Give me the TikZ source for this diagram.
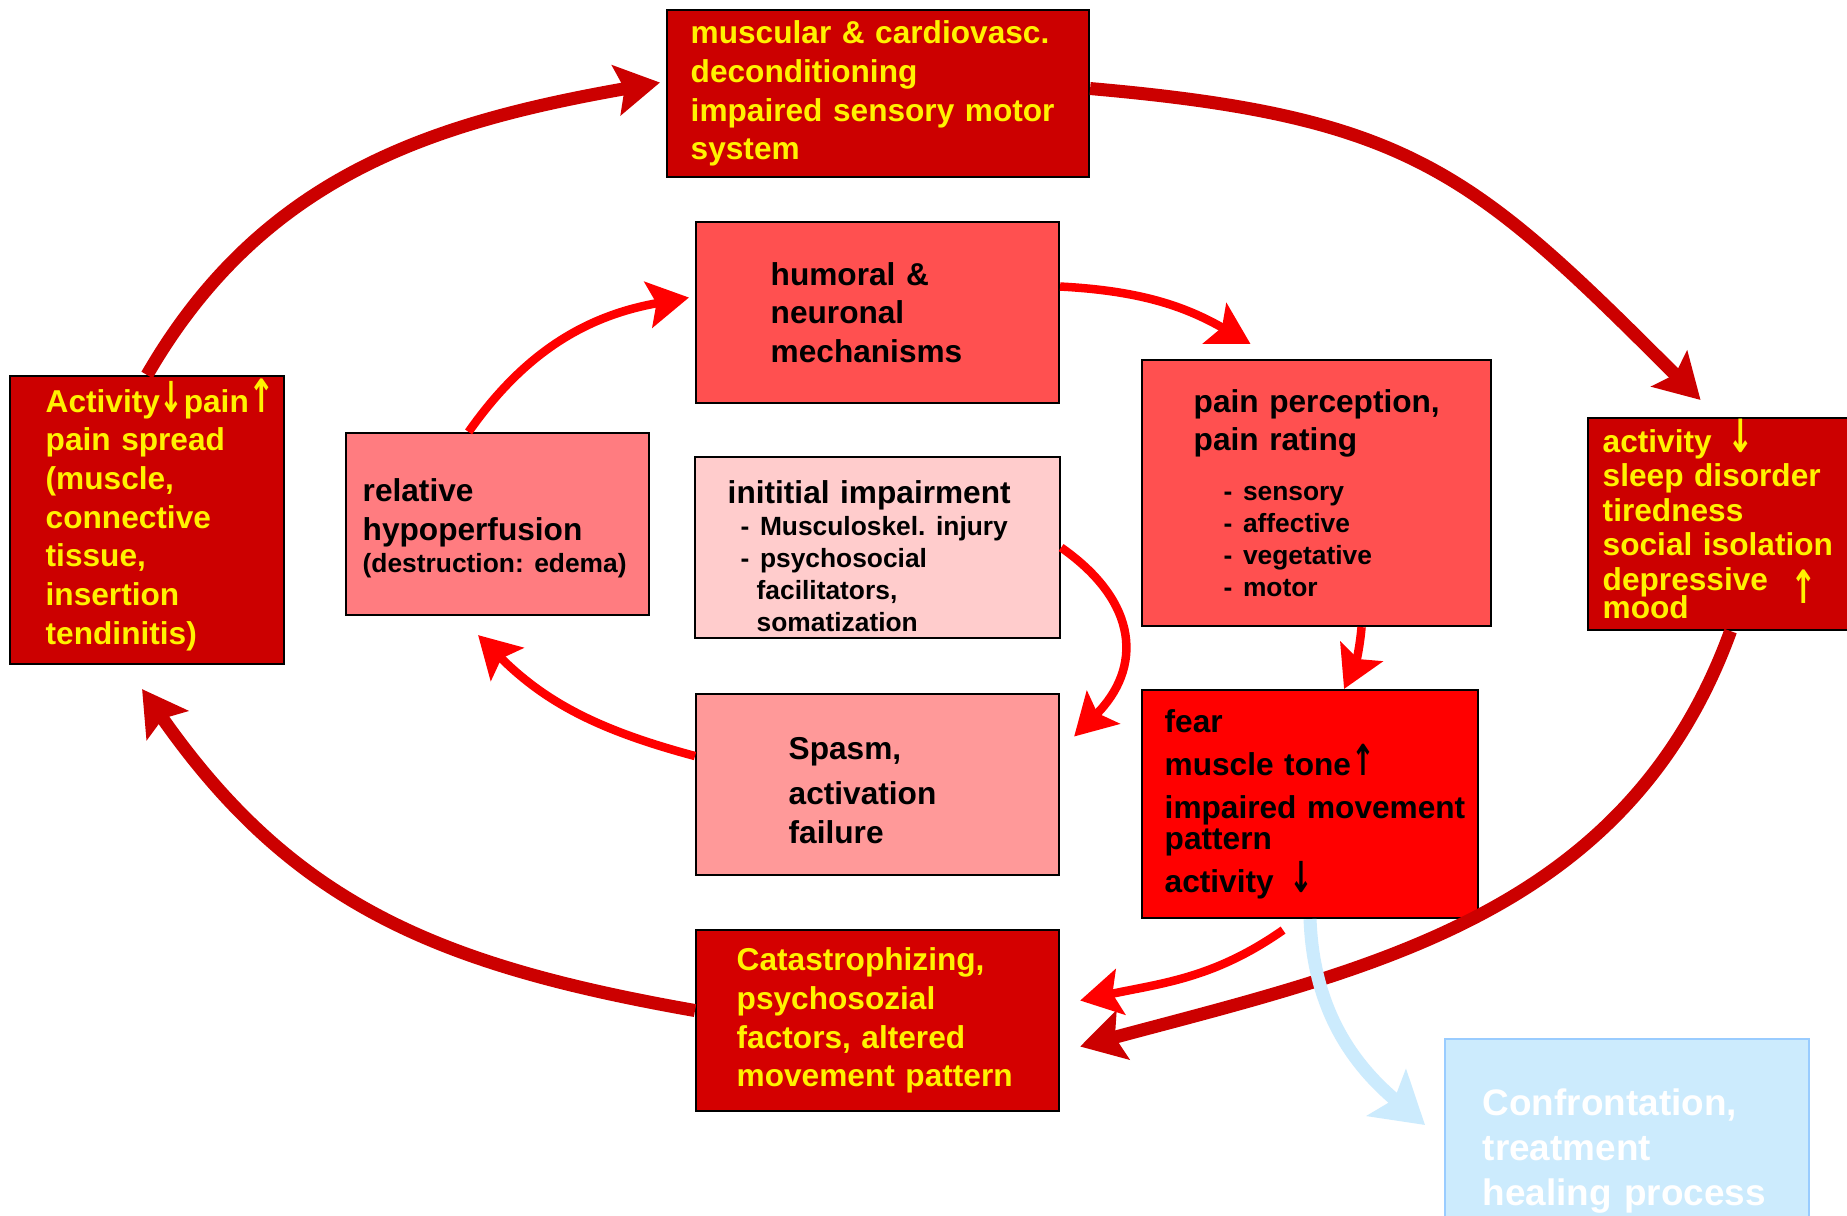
\documentclass[tikz,border=0pt]{standalone}
\usepackage{fontspec}
\setmainfont{Liberation Sans}
\newfontfamily\arrfont{DejaVu Sans}
\usepackage{graphicx}
\usepackage{xcolor}
\usepackage{tikz}
\usetikzlibrary{arrows.meta,positioning}

\definecolor{dkred}{HTML}{CC0000}
\definecolor{catred}{HTML}{D40000}
\definecolor{midred}{HTML}{FF5050}
\definecolor{rosered}{HTML}{FF7C80}
\definecolor{salmon}{HTML}{FF9999}
\definecolor{palepink}{HTML}{FFCCCC}
\definecolor{lightsky}{HTML}{CCEBFD}
\definecolor{skyedge}{HTML}{99CCFF}

\newcommand{\mainsz}{\fontsize{9}{11}\selectfont}
\newcommand{\subsz}{\fontsize{7.5}{9.1}\selectfont}
\newcommand{\arrdown}{\smash{\scalebox{0.9}[1.35]{\arrfont\bfseries ↓}}}
\newcommand{\arrup}{\smash{\scalebox{0.9}[1.35]{\arrfont\bfseries ↑}}}
\newcommand{\thinup}{\smash{\scalebox{1}[1.45]{\arrfont ↑}}}
\newcommand{\thindown}{\smash{\scalebox{1}[1.45]{\arrfont ↓}}}
\frenchspacing

\tikzset{
	cbox/.style={draw=black,line width=0.6pt,anchor=north west,inner sep=0pt},
	txt/.style={anchor=west,inner sep=0pt,align=left,text width=3.4cm,font=\bfseries\mainsz},
	bigarr/.style={line width=1.3mm,dkred,-{Stealth[length=4.4mm,width=5mm,inset=0.8mm]}},
	smallarr/.style={line width=0.85mm,red,-{Stealth[length=4.1mm,width=4.6mm,inset=0.8mm]}},
	bluearr/.style={line width=1.3mm,lightsky,-{Stealth[length=5mm,width=6mm,inset=1mm]}}
}

\begin{document}
\begin{tikzpicture}[transform shape,scale=1]
	\fill[white] (0,0) rectangle (18.47,12.16);
	\useasboundingbox (0,0) rectangle (18.47,12.16);
	% boxes
	\node[cbox,fill=dkred,minimum width=4.22cm,minimum height=1.67cm] (top) at (6.66,12.07) {};
	\node[txt,text width=3.9cm,text=yellow,right=2.4mm of top.west] (toptxt) {muscular \& cardiovasc.\\ deconditioning\\ impaired sensory motor\\ system};
	\node[cbox,fill=midred,minimum width=3.63cm,minimum height=1.81cm] (hum) at (6.95,9.95) {};
	\node[txt,right=7.5mm of hum.west] (humtxt) {humoral \&\\ neuronal\\ mechanisms};
	\node[cbox,fill=midred,minimum width=3.49cm,minimum height=2.66cm] (pain) at (11.41,8.57) {};
	\node[txt,text width=2.9cm,right=5.2mm of pain.west] (paintxt) {pain perception,\\ pain rating\par\vspace{1.8mm}\subsz\hspace*{3mm}- sensory\\\hspace*{3mm}- affective\\\hspace*{3mm}- vegetative\\\hspace*{3mm}- motor\par};
	\node[cbox,fill=dkred,minimum width=2.75cm,minimum height=2.12cm] (rbox) at (15.87,7.99) {};
	\node[txt,text=yellow,text width=2.5cm,right=1.5mm of rbox.west,font=\bfseries\fontsize{9}{9.8}\selectfont] (rboxtxt) {activity \,\thindown\\ sleep disorder\\ tiredness\\ social isolation\\ depressive \hspace{1.2mm}\raisebox{-1.3mm}{\thinup}\\[-1.1mm] mood};
	\node[cbox,fill=dkred,minimum width=2.74cm,minimum height=2.88cm] (lbox) at (0.09,8.41) {};
	\node[txt,text=yellow,text width=2.3cm,right=3.6mm of lbox.west] (lboxtxt) {Activity\arrdown pain\thinup\\ pain spread\\ (muscle,\\ connective\\ tissue,\\ insertion\\ tendinitis)};
	\node[cbox,fill=rosered,minimum width=3.03cm,minimum height=1.82cm] (rel) at (3.45,7.84) {};
	\node[txt,text width=2.8cm,right=1.7mm of rel.west,yshift=-0.4mm] (reltxt) {relative\\ hypoperfusion\par\subsz (destruction: edema)\par};
	\node[cbox,fill=palepink,minimum width=3.65cm,minimum height=1.81cm] (init) at (6.94,7.60) {};
	\node[txt,text width=3.2cm,right=3.3mm of init.west,yshift=-0.9mm] (inittxt) {inititial impairment\par\subsz\hspace*{1.3mm}- Musculoskel. injury\\\hspace*{1.3mm}- psychosocial\\\hspace*{2.9mm}facilitators,\\\hspace*{2.9mm}somatization\par};
	\node[cbox,fill=salmon,minimum width=3.63cm,minimum height=1.81cm] (spasm) at (6.95,5.23) {};
	\node[txt,text width=2.6cm,right=9.3mm of spasm.west,yshift=-0.6mm] (spasmtxt) {Spasm,\\[0.7mm] activation\\ failure};
	\node[cbox,fill=red,minimum width=3.36cm,minimum height=2.28cm] (fear) at (11.41,5.27) {};
	\node[txt,text width=3.1cm,right=2.3mm of fear.west,font=\bfseries\fontsize{9}{8.8}\selectfont] (feartxt) {fear\\[1.2mm] muscle tone\arrup\\[1.2mm] impaired movement\\ pattern\\[1.2mm] activity \,\arrdown};
	\node[cbox,fill=catred,minimum width=3.63cm,minimum height=1.81cm] (cat) at (6.95,2.87) {};
	\node[txt,text=yellow,text width=3.1cm,right=4.1mm of cat.west] (cattxt) {Catastrophizing,\\ psychosozial\\ factors, altered\\ movement pattern};
	\node[cbox,draw=skyedge,fill=lightsky,minimum width=3.64cm,minimum height=2.2cm] (conf) at (14.44,1.78) {};
	\node[txt,anchor=north west,text=white,text width=3.2cm,font=\bfseries\fontsize{10.5}{12.8}\selectfont,below right=5mm and 3.8mm of conf.north west] (conftxt) {Confrontation,\\ treatment\\ healing process};
	% outer cycle
	\draw[bigarr] (lbox.north) to[out=60,in=190] ([xshift=-0.6mm,yshift=1.1mm]top.west);
	\draw[bigarr] ([yshift=0.5mm]top.east) to[out=-5,in=135,looseness=1.2] ([xshift=-2.5mm,yshift=1.7mm]rbox.north);
	\draw[bigarr] ([xshift=0.5mm]rbox.south) to[out=250,in=15] ([xshift=2mm,yshift=-2.6mm]cat.east);
	\draw[bigarr] ([yshift=1mm]cat.west) to[out=170,in=-55,looseness=1.05] ([xshift=-0.5mm,yshift=-2.4mm]lbox.south);
	% inner cycle
	\draw[smallarr] ([xshift=-2.9mm]rel.north) to[out=55,in=190] ([xshift=-0.6mm,yshift=1.5mm]hum.west);
	\draw[smallarr] ([yshift=2.6mm]hum.east) to[out=-3,in=150] ([xshift=-6.6mm,yshift=1.5mm]pain.north);
	\draw[smallarr] ([xshift=4.5mm]pain.south) to[out=265,in=65] ([xshift=3.4mm]fear.north);
	\draw[smallarr] ([xshift=-2.7mm,yshift=-1.1mm]fear.south) to[out=215,in=12] ([xshift=2mm,yshift=2mm]cat.east);
	\draw[smallarr] (init.east) to[out=-35,in=45,looseness=1.3] ([xshift=1.4mm,yshift=4.8mm]spasm.east);
	\draw[smallarr] ([yshift=2.85mm]spasm.west) to[out=165,in=-45] ([xshift=-1.95mm,yshift=-1.9mm]rel.south);
	\draw[bluearr] (fear.south) to[out=-88,in=140] ([xshift=-1.9mm,yshift=-8.7mm]conf.north west);
\end{tikzpicture}
\end{document}
